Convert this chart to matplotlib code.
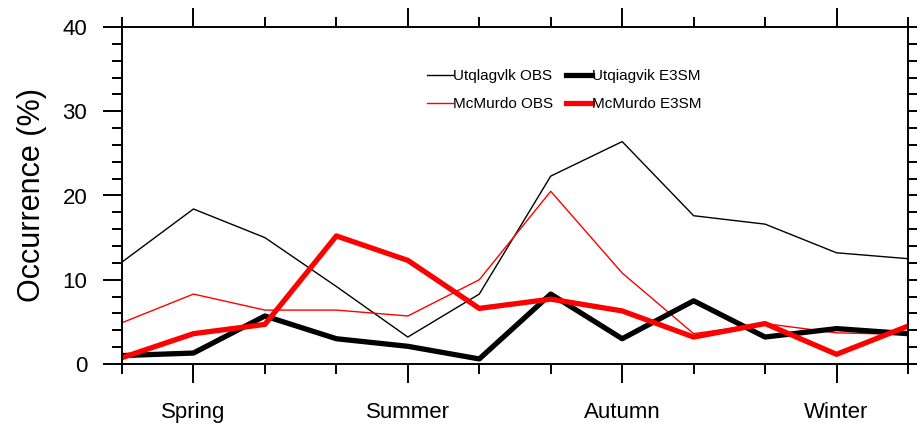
import matplotlib
matplotlib.use("Agg")
import matplotlib.pyplot as plt
from matplotlib.ticker import FixedLocator, MultipleLocator

plt.rcParams['font.family'] = ['Liberation Sans', 'DejaVu Sans']

months = list(range(12))
season_pos = [1, 4, 7, 10]
season_labels = ["Spring", "Summer", "Autumn", "Winter"]

utq_obs = [12.1, 18.4, 15.0, 9.2, 3.2, 8.3, 22.3, 26.4, 17.6, 16.6, 13.2, 12.5]
mcm_obs = [4.9, 8.3, 6.4, 6.4, 5.7, 10.0, 20.5, 10.8, 3.6, 4.8, 3.7, 3.5]
utq_e3sm = [1.0, 1.3, 5.7, 3.0, 2.1, 0.6, 8.3, 3.0, 7.5, 3.2, 4.2, 3.6]
mcm_e3sm = [0.75, 3.6, 4.7, 15.2, 12.3, 6.6, 7.7, 6.3, 3.2, 4.8, 1.15, 4.5]

fig = plt.figure(figsize=(9.17, 4.23), dpi=100)
ax = fig.add_axes([122/917, 1-364/423, (908-122)/917, (364-27)/423])

ax.plot(months, utq_obs, color='black', lw=1.0, label='Utqlagvlk OBS')
ax.plot(months, mcm_obs, color='red', lw=1.0, label='McMurdo OBS')
ax.plot(months, utq_e3sm, color='black', lw=3.8, label='Utqiagvik E3SM')
ax.plot(months, mcm_e3sm, color='red', lw=3.8, label='McMurdo E3SM')

ax.set_xlim(0, 11)
ax.set_ylim(0, 40)
ax.xaxis.set_major_locator(FixedLocator(season_pos))
ax.set_xticklabels(season_labels)
ax.xaxis.set_minor_locator(FixedLocator([m for m in months if m not in season_pos]))
ax.yaxis.set_major_locator(MultipleLocator(10))
ax.yaxis.set_minor_locator(MultipleLocator(2))

for s in ax.spines.values():
    s.set_linewidth(1.4)
ax.tick_params(which='both', direction='out', top=True, right=True, width=1.4, labelsize=16)
ax.tick_params(which='major', length=14)
ax.tick_params(which='minor', length=7)
ax.tick_params(axis='x', which='major', pad=13)
ax.tick_params(axis='y', which='major', pad=11)

ax.set_ylabel('Occurrence (%)', fontsize=22, labelpad=11)

h, l = ax.get_legend_handles_labels()
leg = ax.legend(h, l, ncol=2, frameon=False,
                fontsize=11, loc='upper left', bbox_to_anchor=(0.388, 0.875),
                borderpad=0, borderaxespad=0, handlelength=1.7, handletextpad=0.0,
                columnspacing=0.85, labelspacing=0.9)

fig.savefig('out.png', dpi=100)
